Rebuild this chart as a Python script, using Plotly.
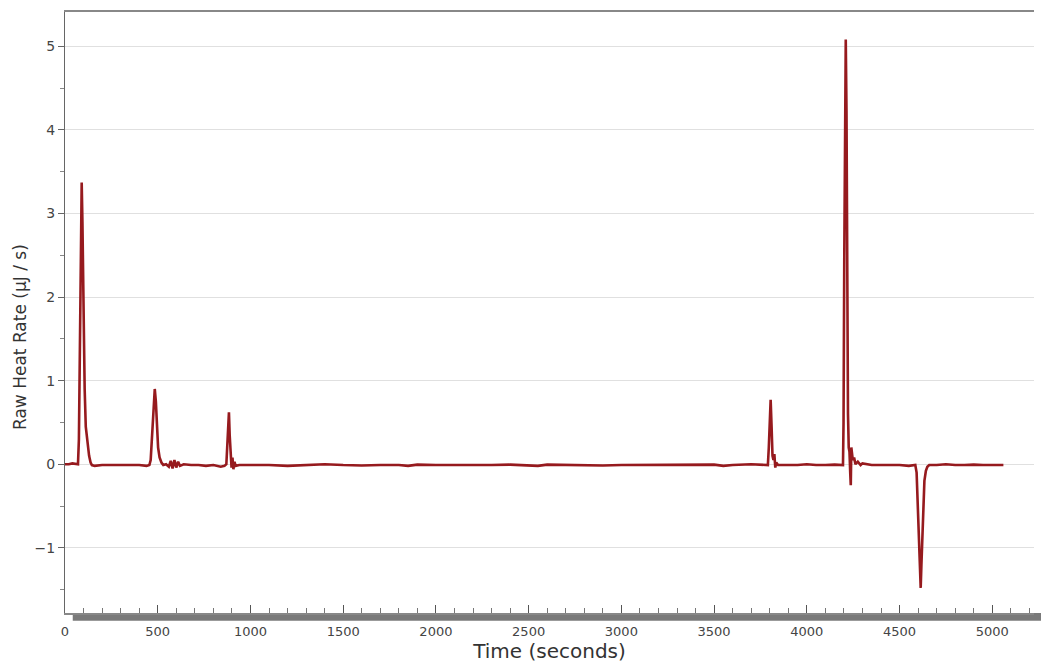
import plotly.graph_objects as go

time_s = [0, 20, 40, 60, 70,
          75, 80, 86, 90, 94, 100, 106, 112, 118, 124, 130, 138, 145, 160,
          200, 250, 300, 350, 400, 440, 455,
          462, 470, 478, 484, 490, 496, 502, 510, 520, 530, 545, 560, 570, 580, 590, 600, 610, 620,
          640, 680, 720, 760, 800, 840, 860, 870,
          875, 880, 884, 888, 893, 898, 903, 908, 914, 920, 940,
          1000, 1100, 1200, 1300, 1400, 1500, 1600, 1700, 1800, 1850, 1900, 2000, 2100, 2200,
          2300, 2400, 2500, 2550, 2600, 2700, 2800, 2900, 3000, 3100, 3200, 3300, 3400, 3500,
          3550, 3600, 3700, 3760, 3790,
          3795, 3800, 3805, 3810, 3815, 3820, 3825, 3830, 3835, 3845, 3900, 3950, 4000, 4050,
          4100, 4150, 4195,
          4198, 4202, 4206, 4210, 4214, 4218, 4222, 4226, 4230, 4234, 4237, 4240, 4244, 4248,
          4255, 4262, 4275, 4290, 4300, 4350, 4400, 4450, 4500, 4550, 4585,
          4592, 4598, 4604, 4610, 4614, 4618, 4623, 4628, 4634, 4642, 4650, 4660, 4700, 4750,
          4800, 4850, 4900, 4950, 5000, 5060]

heat_rate = [0.00, 0.00, 0.01, 0.00, 0.00,
             0.30, 1.60, 2.90, 3.37, 2.90, 1.80, 0.90, 0.45, 0.30, 0.22, 0.10, 0.02, -0.01, -0.02,
             -0.01, -0.01, -0.01, -0.005, -0.01, -0.02, -0.01,
             0.05, 0.40, 0.80, 0.90, 0.75, 0.45, 0.20, 0.08, 0.02, -0.01, 0.00, -0.03, 0.04, -0.05, 0.05, -0.04, 0.03, -0.02,
             0.00, -0.01, -0.01, -0.02, -0.01, -0.03, -0.02, 0.00,
             0.30, 0.60, 0.62, 0.35, 0.05, -0.04, 0.08, -0.06, 0.03, -0.02, -0.01,
             -0.01, -0.01, -0.02, -0.01, 0.00, -0.01, -0.015, -0.01, -0.01, -0.02, -0.005, -0.01, -0.01, -0.015,
             -0.01, -0.005, -0.01, -0.02, -0.005, -0.01, -0.01, -0.015, -0.01, -0.01, -0.005, -0.01, -0.01, -0.005,
             -0.02, -0.01, 0.00, -0.01, -0.01,
             0.20, 0.60, 0.77, 0.45, 0.10, 0.05, 0.12, -0.04, 0.02, -0.01, -0.01, -0.01, 0.00, -0.01,
             -0.01, -0.005, -0.01,
             0.50, 2.50, 4.50, 5.08, 4.20, 2.00, 0.60, 0.20, 0.15, -0.10, -0.25, 0.20, 0.15, 0.05,
             0.08, 0.00, 0.03, -0.01, 0.01, -0.01, -0.01, -0.01, -0.01, -0.02, -0.01,
             -0.10, -0.50, -1.00, -1.40, -1.48, -1.20, -0.80, -0.45, -0.20, -0.08, -0.03, -0.01, -0.01, 0.00,
             -0.01, -0.01, -0.005, -0.01, -0.01, -0.01]

x_title = "Time (seconds)"
y_title = "Raw Heat Rate (µJ / s)"

FONT = "DejaVu Sans, Verdana, sans-serif"

fig = go.Figure()
fig.add_trace(go.Scatter(x=time_s, y=heat_rate, mode="lines",
                         line=dict(color="#961a1e", width=2.6), showlegend=False))

fig.update_layout(
    width=1041, height=664,
    margin=dict(l=65, r=7, t=12, b=51),
    paper_bgcolor="white", plot_bgcolor="white",
    font=dict(family=FONT, color="#333333"),
)
fig.update_xaxes(
    range=[0, 5225], tick0=0, dtick=500,
    ticks="inside", ticklen=8, tickcolor="#555", tickwidth=1,
    minor=dict(dtick=100, ticks="inside", ticklen=5, tickcolor="#777"),
    showgrid=False, zeroline=False,
    showline=True, linecolor="#888", linewidth=2, mirror=True,
    tickfont=dict(size=13, color="#444", family=FONT),
    ticklabelstandoff=5,
    title=dict(text=x_title, font=dict(size=20, color="#333", family=FONT), standoff=3),
)
fig.update_yaxes(
    range=[-1.78, 5.41], tick0=0, dtick=1,
    ticks="outside", ticklen=6, tickcolor="#666",
    minor=dict(dtick=0.5, ticks="outside", ticklen=4, tickcolor="#888"),
    showgrid=True, gridcolor="#e0e0e0", gridwidth=1, zeroline=False,
    showline=True, linecolor="#666", linewidth=1,
    tickfont=dict(size=14, color="#444", family=FONT),
)
# y-axis title as annotation, placed slightly below centre as in the reference
fig.add_annotation(text=y_title, xref="paper", yref="paper",
                   x=-0.047, y=0.46, xanchor="center", yanchor="middle",
                   textangle=-90, showarrow=False,
                   font=dict(size=17, color="#333", family=FONT))
# thick gray scroll bar beneath the x axis
fig.add_shape(type="rect", xref="paper", yref="paper",
              x0=0.008, x1=1.008, y0=-0.013, y1=0.0,
              fillcolor="#7a7a7a", line=dict(width=0), layer="below")

fig.write_html("out.html")
